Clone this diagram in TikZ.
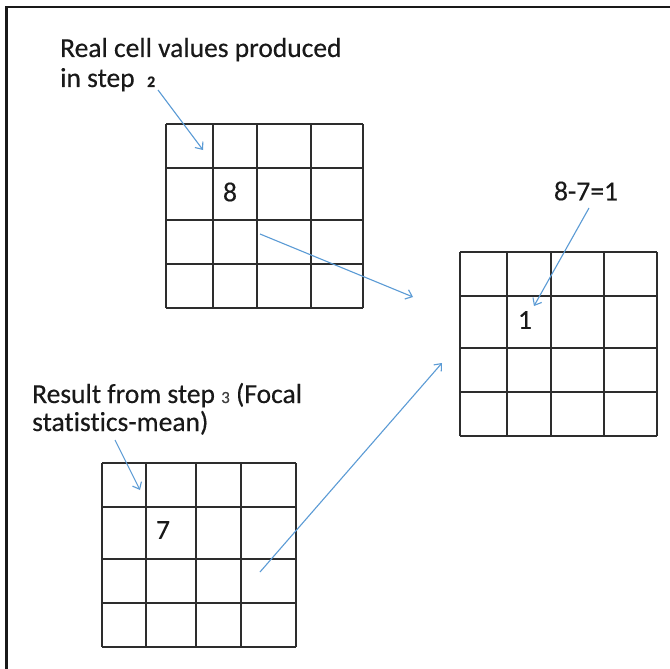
\documentclass[tikz,border=0pt]{standalone}
\usepackage{fontspec}
\setmainfont{Carlito}[Ligatures=NoCommon, FakeBold=0.35]
\usetikzlibrary{arrows.meta}
\definecolor{arrowblue}{RGB}{91,155,213}
\definecolor{gridgray}{RGB}{45,45,45}
\begin{document}
\begin{tikzpicture}[x=1pt,y=-1pt,
  gridline/.style={line width=1.8pt, draw=gridgray},
  conn/.style={draw=arrowblue, line width=1.1pt, -{Straight Barb[length=6pt,width=10pt]}},
  lbl/.style={font=\fontsize{27.5}{30}\selectfont, inner sep=0pt, anchor=base west, text=black!90},
  num/.style={font=\fontsize{27.5}{30}\selectfont, inner sep=0pt, text=black!90}]
\useasboundingbox (0,0) rectangle (670,669);
\fill[white] (0,0) rectangle (670,669);
% frame (top and left edges only)
\draw[line width=2.6pt, black!90] (6.5,669) -- (6.5,7) -- (670,7);

% grid A (top)
\foreach \x in {166,213,257,311,363} \draw[gridline] (\x,124) -- (\x,308);
\foreach \y in {124,168,220,264,308} \draw[gridline] (166,\y) -- (363,\y);
% grid B (right)
\foreach \x in {460,507,551,604,657} \draw[gridline] (\x,252) -- (\x,436);
\foreach \y in {252,296,348,392,436} \draw[gridline] (460,\y) -- (657,\y);
% grid C (bottom)
\foreach \x in {102,146,196,241,296} \draw[gridline] (\x,463) -- (\x,647);
\foreach \y in {463,507,559,603,647} \draw[gridline] (102,\y) -- (296,\y);

% texts
\node[lbl] (t1a) at (60,57) {Real cell values produced};
\node[lbl] (t1b) at (60,87) {in step\ \ {\fontsize{16}{16}\selectfont\bfseries 2}};
\node[lbl] (t2a) at (32,403) {Result from step {\fontsize{17}{17}\selectfont\color{black!75}3} (Focal};
\node[lbl] (t2b) at (32,431) {statistics-mean)};
\node[num] (eq) at (586,191) {8-7=1};
\node[num] (v8) at (230,192) {8};
\node[num] (v7) at (163,530) {7};
\node[num] (v1) at (525,320) {1};

% connector end points
\coordinate (a1s) at (158,90);
\coordinate (a1e) at (203,150);
\coordinate (a2s) at (260,234);
\coordinate (a2e) at (413,297);
\coordinate (a3s) at (589,208);
\coordinate (a3e) at (534,306);
\coordinate (a4s) at (260,572);
\coordinate (a4e) at (442,363);
\coordinate (a5s) at (115,440);
\coordinate (a5e) at (140,490);

\draw[conn] (a1s) -- (a1e);
\draw[conn] (a2s) -- (a2e);
\draw[conn] (a3s) -- (a3e);
\draw[conn] (a4s) -- (a4e);
\draw[conn] (a5s) -- (a5e);
\end{tikzpicture}
\end{document}
